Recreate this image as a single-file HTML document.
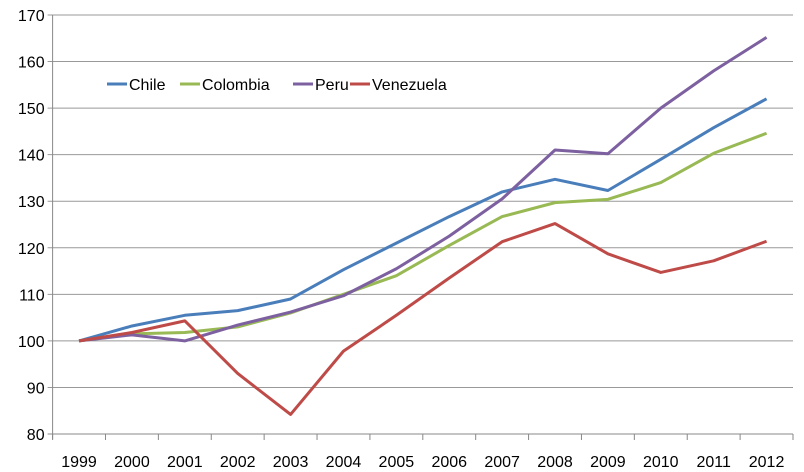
<!DOCTYPE html>
<html><head><meta charset="utf-8"><style>
html,body{margin:0;padding:0;background:#fff;}
svg{display:block;font-family:"Liberation Sans",sans-serif;}
</style></head><body>
<svg id="chart" width="804" height="472"></svg>
<script>
const categories=['1999','2000','2001','2002','2003','2004','2005','2006','2007','2008','2009','2010','2011','2012'];
const yTicks=[80,90,100,110,120,130,140,150,160,170];
const chile=[100,103.2,105.5,106.5,109,115.3,121,126.7,132,134.7,132.3,139,145.8,152];
const colombia=[100,101.5,101.8,103,106,110,114,120.5,126.7,129.7,130.4,134,140.3,144.6];
const peru=[100,101.3,100,103.4,106.2,109.7,115.5,122.5,130.5,141,140.2,150,158,165.2];
const venezuela=[100,101.8,104.3,93,84.2,97.8,105.5,113.5,121.3,125.2,118.7,114.7,117.2,121.4];
const seriesNames=['Chile','Colombia','Peru','Venezuela'];
const seriesData=[chile,colombia,peru,venezuela];
const colors=['#4A7EBB','#98B954','#7D60A0','#BE4B48'];
const NS='http://www.w3.org/2000/svg';
const svg=document.getElementById('chart');
const L=52.6,R=793,T=15,B=434;
const step=(R-L)/categories.length;
function x(i){return L+step*(i+0.5);}
function y(v){return B-(v-80)/(170-80)*(B-T);}
function mk(t,a){const e=document.createElementNS(NS,t);for(const k in a)e.setAttribute(k,a[k]);svg.appendChild(e);return e;}
yTicks.forEach(v=>{
  const g=mk('line',{x1:L-5,x2:R,y1:y(v),y2:y(v),stroke:v===80?'#888':'#999','stroke-width':1});
  
  
  const t=mk('text',{x:L-8,y:y(v)+6,'text-anchor':'end','font-size':16,fill:'#000'});
  t.textContent=v;
  
  
});
const ax=mk('line',{x1:L,x2:L,y1:T,y2:B+5,stroke:'#888'});


for(let i=0;i<=categories.length;i++){
  const tk=mk('line',{x1:L+step*i,x2:L+step*i,y1:B,y2:B+6,stroke:'#888'});
  
  
}
categories.forEach((c,i)=>{
  const t=mk('text',{x:x(i),y:467,'text-anchor':'middle','font-size':16,fill:'#000'});
  t.textContent=c;
  
  
});
seriesData.forEach((d,s)=>{
  const p=mk('polyline',{points:d.map((v,i)=>x(i)+','+y(v)).join(' '),fill:'none',stroke:colors[s],'stroke-width':3,'stroke-linejoin':'round'});
  
  
});
const legX=[107,180,293,350];
seriesNames.forEach((n,s)=>{
  const l=mk('line',{x1:legX[s],x2:legX[s]+20,y1:84,y2:84,stroke:colors[s],'stroke-width':3});
  
  
  const t=mk('text',{x:legX[s]+22,y:90,'font-size':16,fill:'#000'});
  t.textContent=n;
  
  
});
</script>
</body></html>
